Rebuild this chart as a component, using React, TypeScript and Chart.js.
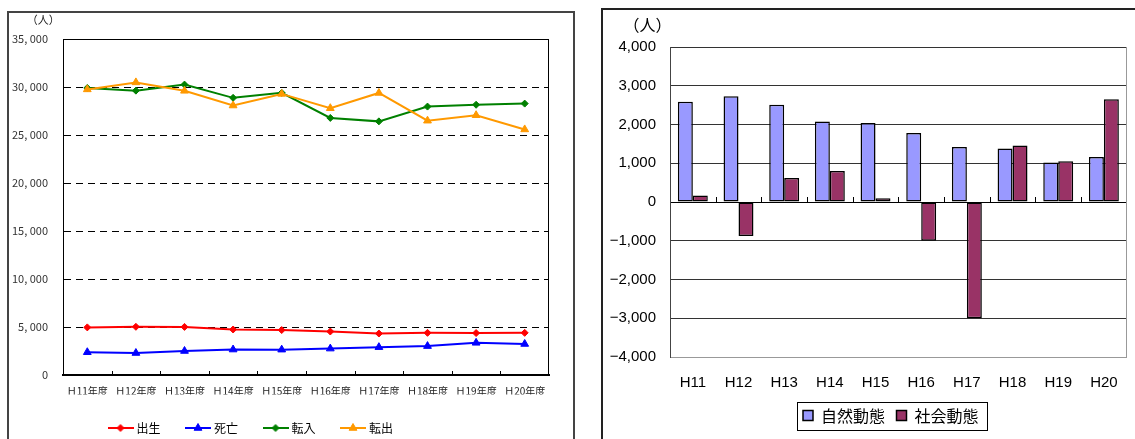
import React, { useEffect, useRef } from "react";
import { Chart, registerables } from "chart.js";

Chart.register(...registerables);

// 年度別 人口動態（人）
const fiscalYears = ["Ｈ11年度", "Ｈ12年度", "Ｈ13年度", "Ｈ14年度", "Ｈ15年度", "Ｈ16年度", "Ｈ17年度", "Ｈ18年度", "Ｈ19年度", "Ｈ20年度"];
const births = [4960, 5020, 5010, 4740, 4680, 4530, 4320, 4390, 4370, 4390];
const deaths = [2370, 2290, 2500, 2650, 2640, 2750, 2900, 3010, 3350, 3230];
const movedIn = [29900, 29620, 30250, 28870, 29390, 26780, 26420, 27960, 28150, 28270];
const movedOut = [29750, 30480, 29600, 28070, 29280, 27790, 29380, 26490, 27060, 25580];
const populationTicks = [0, 5000, 10000, 15000, 20000, 25000, 30000, 35000];

// 自然動態・社会動態（人）
const shortYears = ["H11", "H12", "H13", "H14", "H15", "H16", "H17", "H18", "H19", "H20"];
const naturalChange = [2590, 2730, 2510, 2080, 2040, 1780, 1420, 1380, 1020, 1160];
const socialChange = [170, -880, 620, 800, 100, -1000, -3000, 1460, 1050, 2650];
const changeTicks = [-4000, -3000, -2000, -1000, 0, 1000, 2000, 3000, 4000];

const JP = "'Noto Sans CJK JP', 'Noto Sans', sans-serif";
const ARIAL = "'Liberation Sans', Arial, sans-serif";

const fmtPeople = (v: number) => Math.round(v).toLocaleString("en-US").replace(",", ", ");
const fmtChange = (v: number) =>
  v < 0 ? "\u2212" + Math.abs(v).toLocaleString("en-US") : v.toLocaleString("en-US");

// line-with-marker swatch used as the legend symbol
function makeSwatch(color: string, style: string, radius: number): HTMLCanvasElement {
  const c = document.createElement("canvas");
  c.width = 26;
  c.height = 12;
  const g = c.getContext("2d")!;
  g.strokeStyle = color;
  g.fillStyle = color;
  g.lineWidth = 2;
  g.beginPath();
  g.moveTo(0, 6);
  g.lineTo(26, 6);
  g.stroke();
  g.beginPath();
  const cx = 13, cy = 6;
  if (style === "triangle") {
    for (let k = 0; k < 3; k++) {
      const a = (k * 2 * Math.PI) / 3;
      const px = cx + Math.sin(a) * radius;
      const py = cy - Math.cos(a) * radius;
      if (k === 0) g.moveTo(px, py);
      else g.lineTo(px, py);
    }
  } else {
    g.moveTo(cx, cy - radius);
    g.lineTo(cx + radius, cy);
    g.lineTo(cx, cy + radius);
    g.lineTo(cx - radius, cy);
  }
  g.closePath();
  g.fill();
  g.lineWidth = 1;
  g.stroke();
  return c;
}

function MovementChart() {
  const ref = useRef<HTMLCanvasElement>(null);
  useEffect(() => {
    const canvas = ref.current!;
    const series = [
      { label: "出生", data: births, color: "#FF0000", style: "rectRot", radius: 3.5 },
      { label: "死亡", data: deaths, color: "#0000FF", style: "triangle", radius: 4.5 },
      { label: "転入", data: movedIn, color: "#008000", style: "rectRot", radius: 3.5 },
      { label: "転出", data: movedOut, color: "#FF9900", style: "triangle", radius: 4.5 },
    ];
    const swatches = series.map((s) => makeSwatch(s.color, s.style, s.radius));
    const LEGEND_LEFT = 75;

    const frame = {
      id: "movementFrame",
      afterLayout(chart: any) {
        const lg = chart.legend;
        if (lg) {
          const w = lg.right - lg.left;
          lg.left = LEGEND_LEFT;
          lg.right = LEGEND_LEFT + w;
        }
      },
      afterDraw(chart: any) {
        const { ctx, chartArea: a } = chart;
        const xs = chart.scales.x;
        ctx.save();
        ctx.strokeStyle = "#000";
        ctx.lineWidth = 1;
        ctx.beginPath();
        ctx.moveTo(a.left, Math.round(a.top) + 0.5);
        ctx.lineTo(a.right, Math.round(a.top) + 0.5);
        ctx.moveTo(Math.round(a.right) - 0.5, a.top);
        ctx.lineTo(Math.round(a.right) - 0.5, a.bottom);
        const half = (xs.getPixelForValue(1) - xs.getPixelForValue(0)) / 2;
        for (let i = 1; i < fiscalYears.length; i++) {
          const x = Math.round(xs.getPixelForValue(i) - half) + 0.5;
          ctx.moveTo(x, a.bottom);
          ctx.lineTo(x, a.bottom - 4);
        }
        ctx.stroke();
        ctx.fillStyle = "#222";
        ctx.font = `11px ${JP}`;
        ctx.textAlign = "center";
        ctx.textBaseline = "middle";
        ctx.fillText("（人）", a.left - 19.7, a.top - 19);
        ctx.restore();
      },
    };

    const chart = new Chart(canvas, {
      type: "line",
      data: {
        labels: fiscalYears,
        datasets: series.map((s, i) => ({
          label: s.label,
          data: s.data,
          borderColor: s.color,
          backgroundColor: s.color,
          borderWidth: 2,
          pointStyle: s.style as any,
          pointRadius: s.radius,
          pointBorderWidth: 1,
          pointBackgroundColor: s.color,
          pointBorderColor: s.color,
          tension: 0,
          order: series.length - i,
        })),
      },
      options: {
        responsive: false,
        animation: false,
        layout: { padding: { top: 27, right: 24, bottom: 0, left: 0 } },
        scales: {
          x: {
            type: "category",
            offset: true,
            grid: { display: false, drawTicks: false },
            border: { display: true, color: "#000", width: 2 },
            ticks: { padding: 10, color: "#222", font: { family: JP, size: 10 }, maxRotation: 0, autoSkip: false },
            afterFit: (s: any) => { s.height = 19.5; },
          },
          y: {
            min: 0,
            max: 35000,
            afterBuildTicks: (s: any) => { s.ticks = populationTicks.map((v) => ({ value: v })); },
            grid: { color: "#000", lineWidth: 1, drawTicks: false },
            border: { display: true, color: "#000", width: 1, dash: [7, 5] },
            ticks: { padding: 15, color: "#333", font: { family: JP, size: 11 }, callback: (v: any) => fmtPeople(Number(v)) },
            afterFit: (s: any) => { s.width = 55; },
          },
        },
        plugins: {
          tooltip: { enabled: false },
          legend: {
            position: "bottom",
            align: "start",
            labels: {
              usePointStyle: true,
              pointStyleWidth: 20,
              padding: 27.5,
              color: "#000",
              font: { family: JP, size: 12 },
              generateLabels: (c: any) =>
                c.data.datasets.map((ds: any, i: number) => ({
                  text: ds.label,
                  pointStyle: swatches[i],
                  fillStyle: ds.borderColor,
                  strokeStyle: ds.borderColor,
                  lineWidth: 0,
                  hidden: false,
                  datasetIndex: i,
                  fontColor: "#000",
                })),
            },
          },
        },
      } as any,
      plugins: [frame],
    });
    return () => chart.destroy();
  }, []);
  return (
    <canvas
      ref={ref}
      width={565}
      height={432}
      style={{ position: "absolute", left: 8, top: 12, width: 565, height: 432 }}
    />
  );
}

function ChangeChart() {
  const ref = useRef<HTMLCanvasElement>(null);
  useEffect(() => {
    const canvas = ref.current!;
    const LEGEND_LEFT = 189.5;
    const LEGEND_PAD = 11.5;

    const frame = {
      id: "changeFrame",
      afterLayout(chart: any) {
        const lg = chart.legend;
        if (lg) {
          const w = lg.right - lg.left;
          lg.left = LEGEND_LEFT;
          lg.right = LEGEND_LEFT + w;
        }
      },
      afterDraw(chart: any) {
        const { ctx, chartArea: a } = chart;
        const xs = chart.scales.x;
        const ys = chart.scales.y;
        ctx.save();
        // plot frame, top and right
        ctx.strokeStyle = "#999";
        ctx.lineWidth = 1;
        ctx.beginPath();
        ctx.moveTo(Math.round(a.right) - 0.5, a.top);
        ctx.lineTo(Math.round(a.right) - 0.5, a.bottom);
        ctx.stroke();
        // category tick marks on the zero line
        const y0 = Math.round(ys.getPixelForValue(0));
        const half = (xs.getPixelForValue(1) - xs.getPixelForValue(0)) / 2;
        ctx.strokeStyle = "#000";
        ctx.beginPath();
        for (let i = 1; i < shortYears.length; i++) {
          const x = Math.round(xs.getPixelForValue(i) - half) + 0.5;
          ctx.moveTo(x, y0);
          ctx.lineTo(x, y0 - 5);
        }
        ctx.stroke();
        // unit
        ctx.fillStyle = "#000";
        ctx.font = `16px ${JP}`;
        ctx.textAlign = "center";
        ctx.textBaseline = "middle";
        ctx.fillText("（人）", a.left - 22.5, a.top - 22);
        // legend frame
        const lg = chart.legend;
        if (lg && lg.legendItems) {
          ctx.font = `16px ${JP}`;
          let w = 0;
          lg.legendItems.forEach((it: any, i: number) => {
            w += 10 + 8 + ctx.measureText(it.text).width;
            if (i > 0) w += LEGEND_PAD;
          });
          const left = lg.left + LEGEND_PAD - 6;
          const top = lg.top + LEGEND_PAD - 6;
          ctx.strokeStyle = "#000";
          ctx.lineWidth = 1;
          ctx.strokeRect(Math.round(left) + 0.5, Math.round(top) + 0.5, Math.round(w + 14), 28);
        }
        ctx.restore();
      },
    };

    const chart = new Chart(canvas, {
      type: "bar",
      data: {
        labels: shortYears,
        datasets: [
          { label: "自然動態", data: naturalChange, backgroundColor: "#9999FF", borderColor: "#000", borderWidth: 1.5, borderSkipped: false },
          { label: "社会動態", data: socialChange, backgroundColor: "#993366", borderColor: "#000", borderWidth: 1.5, borderSkipped: false },
        ],
      },
      options: {
        responsive: false,
        animation: false,
        categoryPercentage: 0.655,
        barPercentage: 1,
        layout: { padding: { top: 38, right: 7, bottom: 5.5, left: 0 } },
        scales: {
          x: {
            grid: { display: false, drawTicks: false },
            border: { display: true, color: "#999", width: 1 },
            ticks: { padding: 17, color: "#000", font: { family: ARIAL, size: 15 }, maxRotation: 0, autoSkip: false },
            afterFit: (s: any) => { s.height = 39; },
          },
          y: {
            min: -4000,
            max: 4000,
            afterBuildTicks: (s: any) => { s.ticks = changeTicks.map((v) => ({ value: v })); },
            grid: {
              drawTicks: false,
              lineWidth: 1,
              color: (c: any) => (c.tick && c.tick.value === 0 ? "#000" : "#333"),
            },
            border: { display: true, color: "#444", width: 1 },
            ticks: { padding: 14, color: "#000", font: { family: ARIAL, size: 15 }, callback: (v: any) => fmtChange(Number(v)) },
            afterFit: (s: any) => { s.width = 68; },
          },
        },
        plugins: {
          tooltip: { enabled: false },
          legend: {
            position: "bottom",
            align: "start",
            labels: {
              boxWidth: 10,
              boxHeight: 10,
              padding: LEGEND_PAD,
              color: "#000",
              font: { family: JP, size: 16 },
            },
          },
        },
      } as any,
      plugins: [frame],
    });
    return () => chart.destroy();
  }, []);
  return (
    <canvas
      ref={ref}
      width={533}
      height={430}
      style={{ position: "absolute", left: 602, top: 9, width: 533, height: 430 }}
    />
  );
}

export default function App() {
  return (
    <div
      style={{
        position: "absolute",
        left: 0,
        top: 0,
        width: 1135,
        height: 439,
        overflow: "hidden",
        background: "#fff",
      }}
    >
      <div
        style={{
          position: "absolute",
          left: 7,
          top: 11,
          width: 568,
          height: 460,
          boxSizing: "border-box",
          border: "2px solid #444",
        }}
      />
      <div
        style={{
          position: "absolute",
          left: 601,
          top: 8,
          width: 560,
          height: 460,
          boxSizing: "border-box",
          border: "2px solid #222",
        }}
      />
      <MovementChart />
      <ChangeChart />
    </div>
  );
}
